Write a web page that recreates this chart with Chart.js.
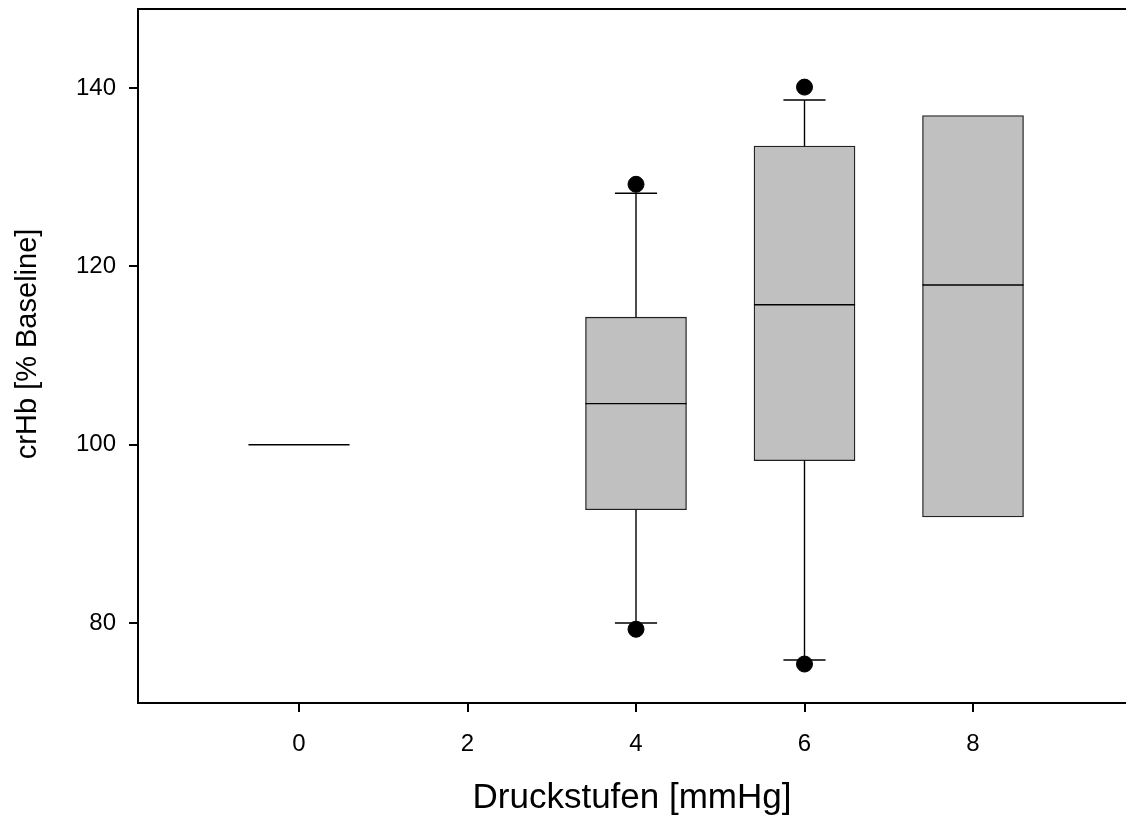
<!DOCTYPE html>
<html lang="de">
<head>
  <meta charset="utf-8" />
  <title>crHb Druckstufen</title>
  <style>
body { margin: 0; background: #fff; }
#chartContainer { width: 1126px; height: 819px; }
  </style>
</head>
<body>
  <div id="chartContainer">
    <canvas id="myChart"></canvas>
  </div>
  <script src="https://cdn.jsdelivr.net/npm/chart.js"></script>
  <script>

// Druckstufen (x position of each box)
const positions   = [0, 4, 6, 8];
const q1          = [100, 92.7, 98.2, 91.9];
const medians     = [100, 104.6, 115.7, 117.9];
const q3          = [100, 114.3, 133.5, 136.9];
const whiskerLow  = [100, 80.0, 75.85, null];
const whiskerHigh = [100, 128.2, 138.65, null];
// Ausreisser
const outlierX = [4, 4, 6, 6];
const outlierY = [129.2, 79.3, 140.1, 75.4];
// Achsen
const xTicks = [0, 2, 4, 6, 8];
const yTicks = [80, 100, 120, 140];

const BOX_HALF = 0.6;   // halbe Boxbreite in x-Einheiten
const CAP_HALF = 0.25;

const FONT = "'Liberation Sans', Arial, sans-serif";

// Boxen (nur wo q1 != q3)
let boxData = [];
for (let i = 0; i < positions.length; i++) {
  if (q3[i] > q1[i]) boxData.push({x: positions[i], y: [q1[i], q3[i]]});
}

// Median, Whisker, Caps als Liniensegmente mit Luecken
let segData = [];
function seg(x1, y1, x2, y2) {
  segData.push({x: x1, y: y1}, {x: x2, y: y2}, {x: x2, y: null});
}
for (let i = 0; i < positions.length; i++) {
  let x = positions[i];
  seg(x - BOX_HALF, medians[i], x + BOX_HALF, medians[i]);
  if (whiskerHigh[i] !== null && whiskerHigh[i] > q3[i]) {
    seg(x, q3[i], x, whiskerHigh[i]);
    seg(x - CAP_HALF, whiskerHigh[i], x + CAP_HALF, whiskerHigh[i]);
  }
  if (whiskerLow[i] !== null && whiskerLow[i] < q1[i]) {
    seg(x, q1[i], x, whiskerLow[i]);
    seg(x - CAP_HALF, whiskerLow[i], x + CAP_HALF, whiskerLow[i]);
  }
}

const outliers = outlierX.map((x, i) => ({x: x, y: outlierY[i]}));

const X_MIN = -1.911, X_MAX = 9.816;
const Y_MIN = 71.03, Y_MAX = 148.86;

function noPad(scale) {
  scale.paddingTop = 0; scale.paddingBottom = 0;
  scale.paddingLeft = 0; scale.paddingRight = 0;
}

const config = {
  data: {
    datasets: [
      {
        type: 'bar',
        data: boxData,
        backgroundColor: '#c0c0c0',
        borderColor: '#202020',
        borderWidth: 1.3,
        borderSkipped: false,
        barThickness: 101,
        order: 3
      },
      {
        type: 'scatter',
        data: segData,
        showLine: true,
        spanGaps: false,
        borderColor: '#000',
        borderWidth: 1.4,
        pointRadius: 0,
        order: 2
      },
      {
        type: 'scatter',
        data: outliers,
        pointRadius: 8,
        backgroundColor: '#000',
        borderColor: '#000',
        order: 1
      }
    ]
  },
  options: {
    responsive: true,
    maintainAspectRatio: false,
    animation: false,
    layout: { padding: 0, autoPadding: false },
    plugins: {
      legend: { display: false },
      tooltip: { enabled: false }
    },
    scales: {
      x: {
        type: 'linear',
        position: 'bottom',
        min: X_MIN,
        max: X_MAX,
        offset: false,
        afterBuildTicks: function(scale) { scale.ticks = xTicks.map(v => ({value: v})); },
        afterFit: function(scale) { scale.height = 116; noPad(scale); },
        grid: { offset: false, drawOnChartArea: false, drawTicks: true, tickLength: 9, color: '#000', lineWidth: 2 },
        border: { color: '#000', width: 2 },
        ticks: { color: '#000', font: { family: FONT, size: 24 }, padding: 18, maxRotation: 0 },
        title: {
          display: true,
          text: 'Druckstufen [mmHg]',
          color: '#000',
          font: { family: FONT, size: 35 },
          padding: { top: 0, bottom: 0 }
        }
      },
      xTop: {
        type: 'linear',
        position: 'top',
        min: X_MIN,
        max: X_MAX,
        offset: false,
        afterFit: function(scale) { scale.height = 9; noPad(scale); },
        grid: { display: true, drawOnChartArea: false, drawTicks: false },
        border: { color: '#000', width: 2 },
        ticks: { display: false }
      },
      y: {
        type: 'linear',
        min: Y_MIN,
        max: Y_MAX,
        afterBuildTicks: function(scale) { scale.ticks = yTicks.map(v => ({value: v})); },
        afterFit: function(scale) { scale.width = 138; noPad(scale); },
        grid: { drawOnChartArea: false, drawTicks: true, tickLength: 9, color: '#000', lineWidth: 2 },
        border: { color: '#000', width: 2 },
        ticks: { color: '#000', font: { family: FONT, size: 24 }, padding: 13 },
        title: {
          display: true,
          text: '   crHb [% Baseline]',
          color: '#000',
          font: { family: FONT, size: 29 },
          padding: { top: 11, bottom: 0 }
        }
      }
    }
  }
};

const chart = new Chart(document.getElementById('myChart'), config);
  </script>
</body>
</html>
